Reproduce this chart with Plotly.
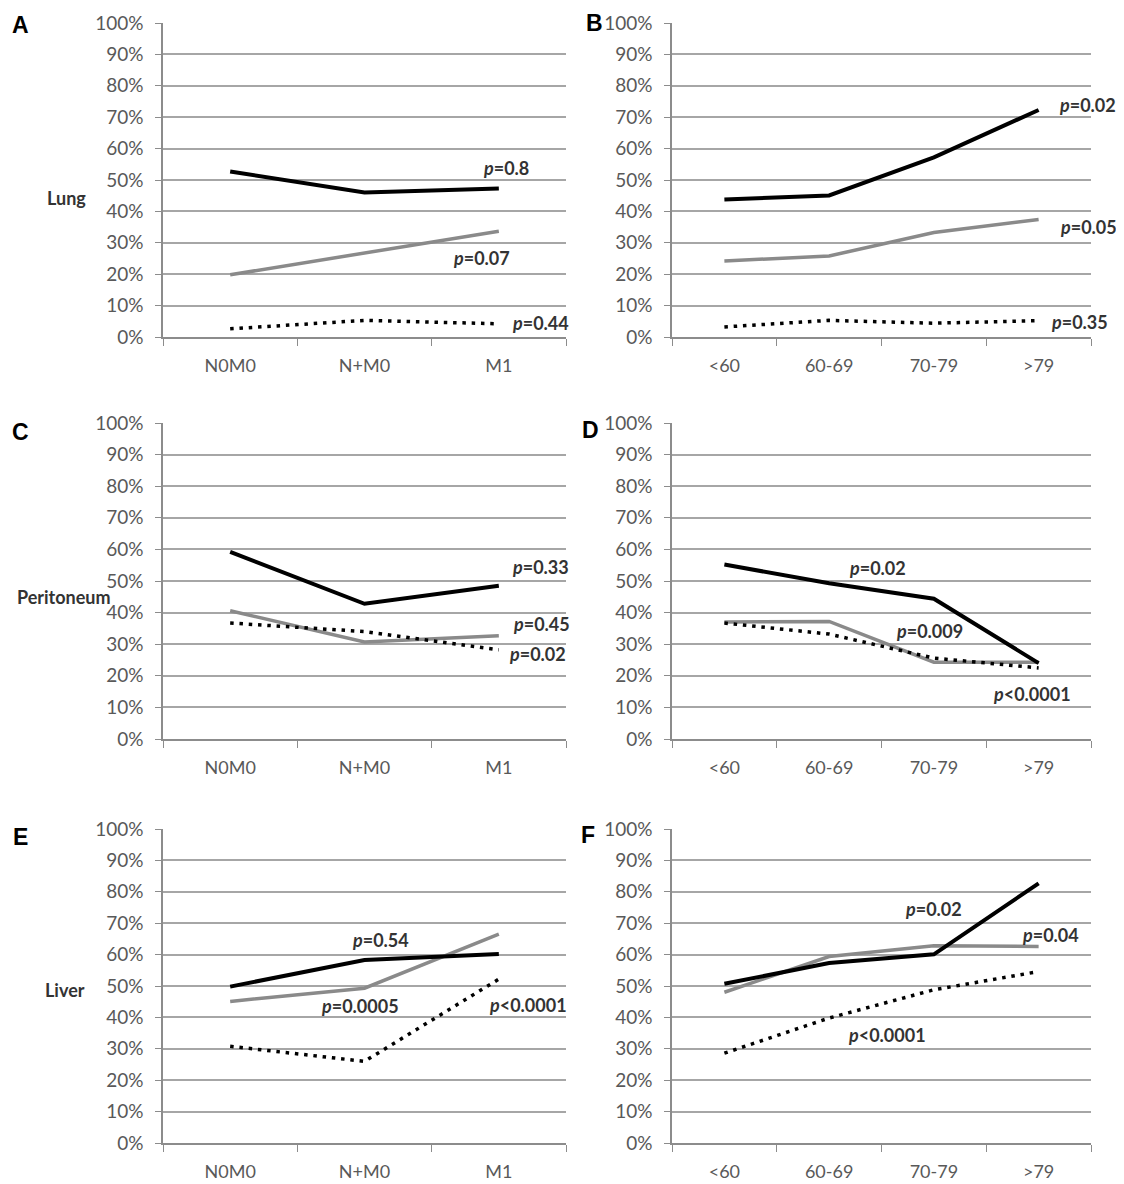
import plotly.graph_objects as go

# ---------------- data ----------------
stages = ["N0M0", "N+M0", "M1"]
ages = ["<60", "60-69", "70-79", ">79"]
row_labels = ["Lung", "Peritoneum", "Liver"]
panel_letters = ["A", "B", "C", "D", "E", "F"]
y_tick_values = [0, 10, 20, 30, 40, 50, 60, 70, 80, 90, 100]
y_tick_labels = ["0%", "10%", "20%", "30%", "40%", "50%", "60%", "70%", "80%", "90%", "100%"]

a_black = [52.7, 46.0, 47.3]
a_gray = [19.8, 26.8, 33.7]
a_dot = [2.6, 5.3, 4.2]

b_black = [43.8, 45.1, 57.2, 72.3]
b_gray = [24.2, 25.8, 33.3, 37.4]
b_dot = [3.2, 5.3, 4.4, 5.2]

c_black = [59.2, 42.8, 48.5]
c_gray = [40.6, 30.7, 32.7]
c_dot = [36.7, 34.0, 28.2]

d_black = [55.2, 49.3, 44.4, 24.0]
d_gray = [37.0, 37.2, 24.3, 24.3]
d_dot = [36.7, 33.2, 25.6, 22.5]

e_black = [49.8, 58.3, 60.2]
e_gray = [45.1, 49.3, 66.5]
e_dot = [30.8, 26.0, 52.2]

f_black = [50.7, 57.3, 60.1, 82.7]
f_gray = [48.0, 59.4, 62.8, 62.6]
f_dot = [28.6, 39.8, 48.8, 54.6]

a_p = ["0.8", "0.07", "0.44"]
b_p = ["0.02", "0.05", "0.35"]
c_p = ["0.33", "0.45", "0.02"]
d_p = ["0.02", "0.009", "<0.0001"]
e_p = ["0.54", "0.0005", "<0.0001"]
f_p = ["0.02", "0.04", "<0.0001"]

# ---------------- layout helpers ----------------
W, H = 1124, 1184
OFF = 8  # page body margin
def fx(px):
    return (px - OFF) / W
def fy(py):
    return 1 - (py - OFF) / H

col_px = [(163, 566), (672, 1091)]
row_px = [(23, 337), (423, 739), (829, 1143)]

panels = [
    (stages, a_black, a_gray, a_dot, a_p),
    (ages, b_black, b_gray, b_dot, b_p),
    (stages, c_black, c_gray, c_dot, c_p),
    (ages, d_black, d_gray, d_dot, d_p),
    (stages, e_black, e_gray, e_dot, e_p),
    (ages, f_black, f_gray, f_dot, f_p),
]

# annotation positions (category index, percent) for each p label
p_pos = [
    [(2.05, 53.7), (1.87, 25.1), (2.31, 4.4)],
    [(3.47, 73.9), (3.48, 35.1), (3.39, 4.8)],
    [(2.31, 54.3), (2.32, 36.5), (2.29, 26.8)],
    [(1.46, 54.2), (1.96, 34.3), (2.94, 14.3)],
    [(1.12, 64.5), (0.97, 43.7), (2.22, 44.0)],
    [(2.00, 74.5), (3.11, 66.3), (1.55, 34.3)],
]
letter_pos = [(21, 25), (594, 23), (21, 432), (590, 430), (21, 837), (588, 835)]
rowlabel_pos = [(66, 198), (64, 597), (65, 990)]

FONT = "Lato, 'Open Sans', sans-serif"
GRID = "#a6a6a6"
AXIS = "#8c8c8c"
TICKC = "#595959"
TXT = "#333333"

fig = go.Figure()
layout = dict(
    width=W, height=H,
    margin=dict(l=0, r=0, t=0, b=0, pad=0),
    autosize=False,
    paper_bgcolor="white", plot_bgcolor="white",
    showlegend=False,
    font=dict(family=FONT, size=18, color=TICKC),
)
annotations = []

for i, (cats, blk, gry, dot, pv) in enumerate(panels):
    r, c = divmod(i, 2)
    n = i + 1
    xa = "x" if n == 1 else f"x{n}"
    ya = "y" if n == 1 else f"y{n}"
    xkey = "xaxis" if n == 1 else f"xaxis{n}"
    ykey = "yaxis" if n == 1 else f"yaxis{n}"
    x0, x1 = col_px[c]
    y0, y1 = row_px[r]
    layout[xkey] = dict(
        domain=[fx(x0), fx(x1)], anchor=ya, type="category",
        categoryorder="array", categoryarray=cats,
        range=[-0.5, len(cats) - 0.5], automargin=False,
        tickson="boundaries", ticks="outside", ticklen=7, tickcolor=AXIS, tickwidth=1.3,
        showline=True, linecolor=AXIS, linewidth=1.5, showgrid=False, zeroline=False,
        tickfont=dict(family=FONT, size=18, color=TICKC), ticklabelstandoff=12,
        fixedrange=True,
    )
    layout[ykey] = dict(
        domain=[fy(y1), fy(y0)], anchor=xa, range=[0, 100], automargin=False,
        tickmode="array", tickvals=y_tick_values, ticktext=y_tick_labels,
        ticks="outside", ticklen=6, tickcolor=AXIS, tickwidth=1.3,
        showline=True, linecolor=AXIS, linewidth=1.5,
        showgrid=True, gridcolor=GRID, gridwidth=1.5, zeroline=False,
        tickfont=dict(family=FONT, size=19, color=TICKC), ticklabelstandoff=8,
        fixedrange=True,
    )
    fig.add_trace(go.Scatter(x=cats, y=gry, mode="lines", xaxis=xa, yaxis=ya,
                             line=dict(color="#8a8a8a", width=3.5), cliponaxis=False))
    fig.add_trace(go.Scatter(x=cats, y=blk, mode="lines", xaxis=xa, yaxis=ya,
                             line=dict(color="#000000", width=4), cliponaxis=False))
    fig.add_trace(go.Scatter(x=cats, y=dot, mode="lines", xaxis=xa, yaxis=ya,
                             line=dict(color="#000000", width=3.5, dash="3.5px,5.8px"),
                             cliponaxis=False))
    for (px_, py_), val in zip(p_pos[i], pv):
        sep = "" if val.startswith("<") else "="
        annotations.append(dict(
            x=px_, y=py_, xref=xa, yref=ya, showarrow=False,
            text=f"<b><i>p</i>{sep}{val}</b>",
            font=dict(family=FONT, size=18, color=TXT),
            xanchor="center", yanchor="middle",
        ))
    lx, ly = letter_pos[i]
    annotations.append(dict(
        x=fx(lx), y=fy(ly), xref="paper", yref="paper", showarrow=False,
        text=f"<b>{panel_letters[i]}</b>",
        font=dict(family="Liberation Sans, Arial, sans-serif", size=23, color="#000000"),
        xanchor="center", yanchor="middle",
    ))

for (lx, ly), lab in zip(rowlabel_pos, row_labels):
    annotations.append(dict(
        x=fx(lx), y=fy(ly), xref="paper", yref="paper", showarrow=False,
        text=f"<b>{lab}</b>",
        font=dict(family=FONT, size=18, color=TXT),
        xanchor="center", yanchor="middle",
    ))

layout["annotations"] = annotations
fig.update_layout(**layout)
fig.write_html("out.html")
